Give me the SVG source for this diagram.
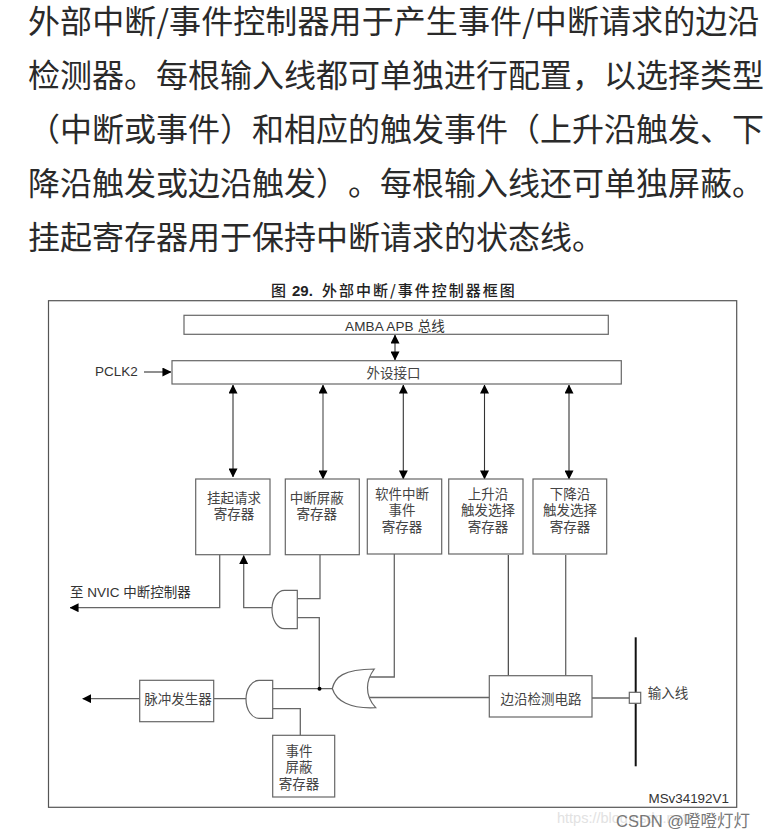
<svg xmlns="http://www.w3.org/2000/svg" width="768" height="840" viewBox="0 0 768 840">
<style>
text{font-family:"Liberation Sans","Noto Sans CJK SC",sans-serif;fill:#333;font-size:13.5px}
.cjk{font-family:"Noto Sans CJK SC","Liberation Sans",sans-serif;text-anchor:middle;font-size:13.5px;fill:#444}
.p{font-family:"Noto Sans CJK SC",sans-serif;font-size:32px;fill:#2a2a2a;text-spacing-trim:space-all}
.box{fill:#fff;stroke:#666;stroke-width:1.2}
.w{fill:none;stroke:#666;stroke-width:1.3}
.d{fill:none;stroke:#333;stroke-width:1.1}
</style>
<defs>
<marker id="a" viewBox="0 0 10 10" refX="9.5" refY="5" markerWidth="9" markerHeight="9" markerUnits="userSpaceOnUse" orient="auto-start-reverse"><path d="M0 0L10 5L0 10Z" fill="#000"/></marker>
</defs>
<rect width="768" height="840" fill="#fff"/>
<g id="paragraph">
<text class="p" x="28" y="33" letter-spacing="0.1">外部中断/事件控制器用于产生事件/中断请求的边沿</text>
<text class="p" x="28" y="87">检测器。每根输入线都可单独进行配置，以选择类型</text>
<text class="p" x="28" y="141">（中断或事件）和相应的触发事件（上升沿触发、下</text>
<text class="p" x="28" y="195">降沿触发或边沿触发）。每根输入线还可单独屏蔽。</text>
<text class="p" x="28" y="249">挂起寄存器用于保持中断请求的状态线。</text>
</g>
<text id="title" x="271" y="296" style="font-size:15px;font-family:'Noto Sans CJK SC',sans-serif;letter-spacing:2px;fill:#222;font-weight:500">图<tspan x="292" style="font-family:'Liberation Sans',sans-serif;font-weight:bold;letter-spacing:0">29.</tspan><tspan x="322">外部中断/事件控制器框图</tspan></text>
<rect id="frame" x="48.5" y="300.7" width="688.2" height="506.6" fill="none" stroke="#555" stroke-width="1.2"/>
<g id="connectors">
<path class="d" d="M395 335V360" marker-start="url(#a)" marker-end="url(#a)"/>
<path class="d" d="M144 372H171" marker-end="url(#a)"/>
<path class="d" d="M233 385V477" marker-start="url(#a)" marker-end="url(#a)"/>
<path class="w" d="M323 385V479" marker-start="url(#a)" marker-end="url(#a)"/>
<path class="d" d="M403.3 385V479" marker-start="url(#a)" marker-end="url(#a)"/>
<path class="d" d="M484.5 385V479" marker-start="url(#a)" marker-end="url(#a)"/>
<path class="d" d="M569 385V479" marker-start="url(#a)" marker-end="url(#a)"/>
<path class="w" d="M219.7 555V607.7H70" marker-end="url(#a)"/>
<path class="w" d="M272 607.7H243.7V555.5" marker-end="url(#a)"/>
<path class="w" d="M297.3 598.7H320V555"/>
<path class="w" d="M297.3 617.7H319.3V688.7"/>
<path class="w" d="M272.7 688.7H332.3"/>
<path class="w" d="M272.7 708.7H300.3V735.3"/>
<path class="w" d="M246 698.7H213.7"/>
<path class="w" d="M139.7 698.7H82.7" marker-end="url(#a)"/>
<path class="w" d="M370 677H394.3V554"/>
<path class="w" d="M368 697.5H489.3"/>
<path class="d" d="M508.3 555V675.7"/>
<path class="w" d="M565.7 555V675.7"/>
<path class="w" d="M592 698H629.3"/>
<circle cx="319.5" cy="688.7" r="2" fill="#000"/>
<path d="M635.7 637.3V766.3" fill="none" stroke="#111" stroke-width="2"/>
</g>
<g id="amba"><rect class="box" x="184" y="315.3" width="424.3" height="19"/><text x="345" y="330.5" letter-spacing="0.15">AMBA APB 总线</text></g>
<g id="periph"><rect class="box" x="172" y="360.7" width="449.3" height="23.3"/><text class="cjk" x="393.5" y="377.5">外设接口</text></g>
<text id="pclk" x="95" y="376">PCLK2</text>
<g id="pending"><rect class="box" x="195.7" y="479" width="74.3" height="75.7"/><text class="cjk"><tspan x="234" y="503">挂起请求</tspan><tspan x="234" y="519">寄存器</tspan></text></g>
<g id="intmask"><rect class="box" x="285.3" y="479" width="74" height="75.7"/><text class="cjk"><tspan x="316.7" y="503">中断屏蔽</tspan><tspan x="316.7" y="519">寄存器</tspan></text></g>
<g id="swint"><rect class="box" x="367.3" y="479" width="74.4" height="75"/><text class="cjk"><tspan x="402" y="499">软件中断</tspan><tspan x="402" y="515">事件</tspan><tspan x="402" y="532">寄存器</tspan></text></g>
<g id="rising"><rect class="box" x="448.7" y="479" width="74.3" height="75"/><text class="cjk"><tspan x="488" y="499">上升沿</tspan><tspan x="488" y="515">触发选择</tspan><tspan x="488" y="532">寄存器</tspan></text></g>
<g id="falling"><rect class="box" x="533" y="479" width="73.7" height="75"/><text class="cjk"><tspan x="570" y="499">下降沿</tspan><tspan x="570" y="515">触发选择</tspan><tspan x="570" y="532">寄存器</tspan></text></g>
<text id="nvic" x="70" y="597">至 NVIC 中断控制器</text>
<g id="and1"><path class="box" d="M297.3 590.3H284.5A12.5 19.2 0 0 0 284.5 628.7H297.3Z"/></g>
<g id="and2"><path class="box" d="M272.7 680.3H259A13 19 0 0 0 259 718.3H272.7Z"/></g>
<g id="or"><path class="box" d="M332.3 688.5C335 677 343 669.5 374.3 669C366 680 364 695 375.7 707.7C350 709 336 701 332.3 688.5Z"/></g>
<g id="pulse"><rect class="box" x="139.7" y="680.3" width="74" height="41.4"/><text class="cjk" x="178" y="704">脉冲发生器</text></g>
<g id="evmask"><rect class="box" x="272.7" y="735.3" width="62" height="61.7"/><text class="cjk"><tspan x="299" y="756">事件</tspan><tspan x="299" y="772">屏蔽</tspan><tspan x="299" y="789">寄存器</tspan></text></g>
<g id="edge"><rect class="box" x="489.3" y="675.7" width="102.7" height="41.3"/><text class="cjk" x="541" y="704">边沿检测电路</text></g>
<g id="inputpad"><rect class="box" x="629.3" y="692.3" width="11.4" height="11"/></g>
<text class="cjk" x="668" y="698">输入线</text>
<text id="code" x="648.5" y="802.5" style="font-size:13.4px">MSv34192V1</text>
<text id="wm1" x="557" y="823" style="font-size:14.5px;fill:#e2e2e2">https://blog.csdn.net/</text>
<text id="wm2" x="616" y="827" style="font-size:16.5px;fill:#777">CSDN @噔噔灯灯</text>
</svg>
